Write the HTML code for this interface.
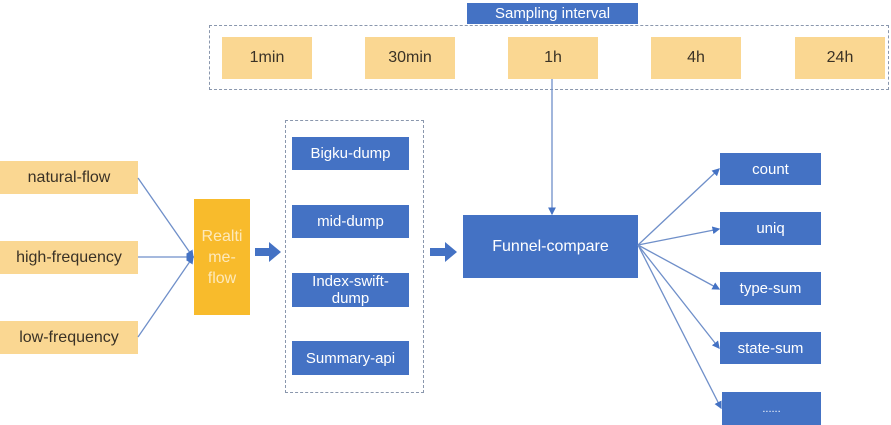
<!DOCTYPE html>
<html><head><meta charset="utf-8"><style>
body{margin:0;width:891px;height:425px;background:#fff;position:relative;overflow:hidden;font-family:"Liberation Sans",sans-serif}
.b{position:absolute;display:flex;align-items:center;justify-content:center;text-align:center;box-sizing:border-box}
.o{background:#fad792;color:#3a3226;font-size:16px}
.u{background:#4472c4;color:#fff;font-size:15px}
.d{position:absolute;border:1.5px dashed #8a97ad;box-sizing:border-box}
</style></head><body>
<div class="d" style="left:209px;top:25px;width:680px;height:65px"></div>
<div class="b u" style="left:467px;top:3px;width:171px;height:21px;font-size:15px">Sampling interval</div>
<div class="b o" style="left:222px;top:37px;width:90px;height:42px">1min</div>
<div class="b o" style="left:365px;top:37px;width:90px;height:42px">30min</div>
<div class="b o" style="left:508px;top:37px;width:90px;height:42px">1h</div>
<div class="b o" style="left:651px;top:37px;width:90px;height:42px">4h</div>
<div class="b o" style="left:795px;top:37px;width:90px;height:42px">24h</div>
<div class="b o" style="left:0;top:161px;width:138px;height:33px">natural-flow</div>
<div class="b o" style="left:0;top:241px;width:138px;height:33px">high-frequency</div>
<div class="b o" style="left:0;top:321px;width:138px;height:33px">low-frequency</div>
<div class="b" style="left:194px;top:199px;width:56px;height:116px;background:#f8bb2c;color:#fde9bb;font-size:16px;line-height:21px">Realti<br>me-<br>flow</div>
<div class="d" style="left:285px;top:120px;width:139px;height:273px"></div>
<div class="b u" style="left:292px;top:137px;width:117px;height:33px">Bigku-dump</div>
<div class="b u" style="left:292px;top:205px;width:117px;height:33px">mid-dump</div>
<div class="b u" style="left:292px;top:273px;width:117px;height:34px;line-height:17px">Index-swift-<br>dump</div>
<div class="b u" style="left:292px;top:341px;width:117px;height:34px">Summary-api</div>
<div class="b u" style="left:463px;top:215px;width:175px;height:63px;font-size:16px">Funnel-compare</div>
<div class="b u" style="left:720px;top:153px;width:101px;height:32px">count</div>
<div class="b u" style="left:720px;top:212px;width:101px;height:33px">uniq</div>
<div class="b u" style="left:720px;top:272px;width:101px;height:33px">type-sum</div>
<div class="b u" style="left:720px;top:332px;width:101px;height:32px">state-sum</div>
<div class="b u" style="left:722px;top:392px;width:99px;height:33px;font-size:11px">......</div>
<svg width="891" height="425" style="position:absolute;left:0;top:0">
<defs><marker id="a" markerWidth="6" markerHeight="6" refX="5" refY="3" orient="auto"><path d="M0,0L6,3L0,6z" fill="#4472c4"/></marker></defs>
<g stroke="#6f8fc9" stroke-width="1.3" fill="none" marker-end="url(#a)">
<line x1="138" y1="178" x2="193" y2="257"/>
<line x1="138" y1="257" x2="193" y2="257"/>
<line x1="138" y1="337" x2="193" y2="257"/>
<line x1="552" y1="79" x2="552" y2="214"/>
<line x1="638" y1="245" x2="719" y2="169"/>
<line x1="638" y1="245" x2="719" y2="229"/>
<line x1="638" y1="245" x2="719" y2="289"/>
<line x1="638" y1="245" x2="719" y2="348"/>
<line x1="638" y1="245" x2="721" y2="408"/>
</g>
<path d="M255,248h14v-6l12,10l-12,10v-6h-14z" fill="#4472c4"/>
<path d="M430,248h15v-6l12,10l-12,10v-6h-15z" fill="#4472c4"/>
</svg>
</body></html>
